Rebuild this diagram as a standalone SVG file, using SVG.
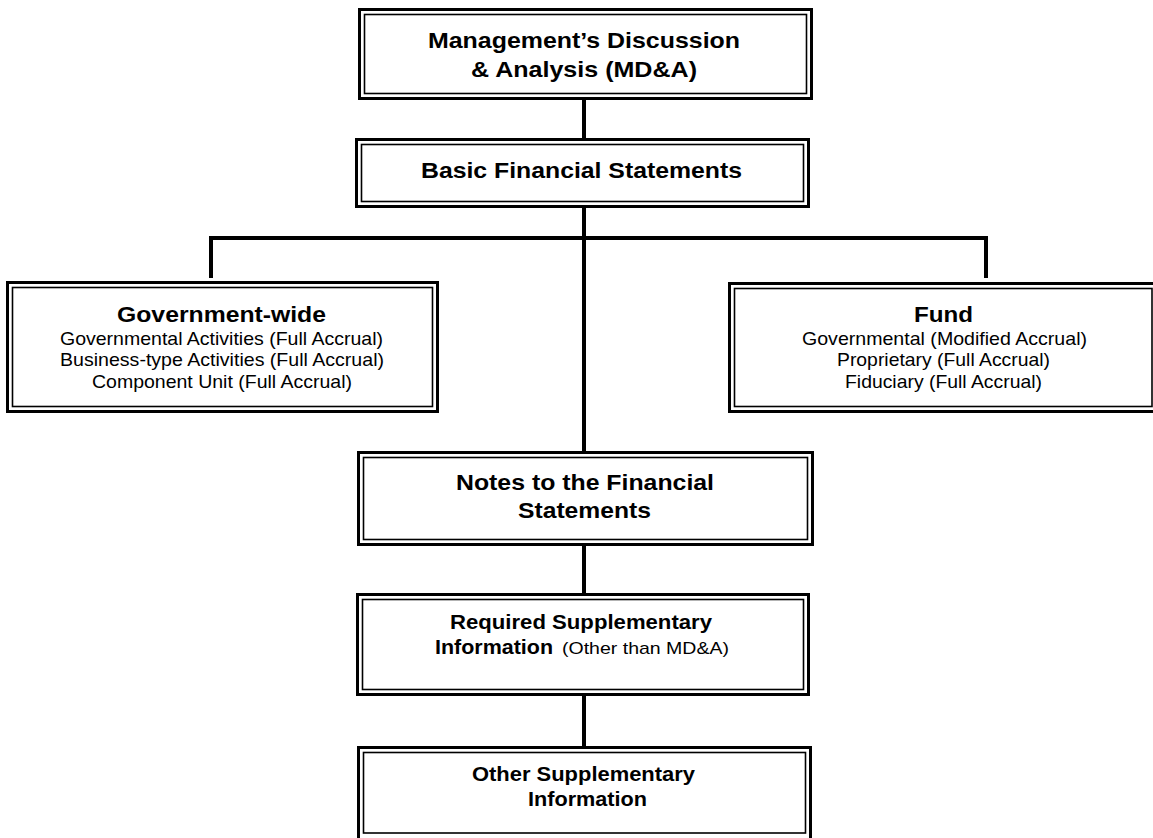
<svg xmlns="http://www.w3.org/2000/svg" width="1153" height="838" viewBox="0 0 1153 838">
<style>
.o{fill:#fff;stroke:#000;stroke-width:3}
.i{fill:none;stroke:#000;stroke-width:1.6}
.c{fill:none;stroke:#000;stroke-width:4}
text{font-family:"Liberation Sans",Arial,sans-serif;text-anchor:middle;fill:#000}
.h{font-weight:bold;font-size:22px}
.r{font-size:18.5px}
.s{font-weight:bold;font-size:20px}
.st{text-anchor:start}
</style>
<rect width="1153" height="838" fill="#fff"/>
<g id="connectors">
<line class="c" x1="584" y1="98" x2="584" y2="139"/>
<line class="c" x1="584" y1="207" x2="584" y2="453"/>
<polyline class="c" points="211,278 211,238 986,238 986,278"/>
<line class="c" x1="584" y1="546" x2="584" y2="594"/>
<line class="c" x1="584" y1="695" x2="584" y2="747"/>
</g>
<g id="mda">
<rect class="o" x="359.5" y="9.5" width="452" height="89"/>
<rect class="i" x="364.5" y="14.5" width="442" height="79"/>
<text class="h" x="584" y="48" textLength="312" lengthAdjust="spacingAndGlyphs">Management’s Discussion</text>
<text class="h" x="584" y="77" textLength="226" lengthAdjust="spacingAndGlyphs">&amp; Analysis (MD&amp;A)</text>
</g>
<g id="basic">
<rect class="o" x="356.5" y="139.5" width="452" height="67"/>
<rect class="i" x="361.5" y="144.5" width="442" height="57"/>
<text class="h" x="581.5" y="178" textLength="321" lengthAdjust="spacingAndGlyphs">Basic Financial Statements</text>
</g>
<g id="govwide">
<rect class="o" x="7.5" y="282.5" width="430" height="129"/>
<rect class="i" x="12.5" y="287.5" width="420" height="119"/>
<text class="h" x="221.5" y="322" textLength="209" lengthAdjust="spacingAndGlyphs">Government-wide</text>
<text class="r" x="221.5" y="345" textLength="323" lengthAdjust="spacingAndGlyphs">Governmental Activities (Full Accrual)</text>
<text class="r" x="222" y="366" textLength="324" lengthAdjust="spacingAndGlyphs">Business-type Activities (Full Accrual)</text>
<text class="r" x="222" y="388" textLength="260" lengthAdjust="spacingAndGlyphs">Component Unit (Full Accrual)</text>
</g>
<g id="fund">
<rect class="o" x="729.5" y="283.5" width="428" height="128"/>
<rect class="i" x="734.5" y="288.5" width="417.5" height="118"/>
<text class="h" x="943.5" y="322" textLength="59" lengthAdjust="spacingAndGlyphs">Fund</text>
<text class="r" x="944.5" y="345" textLength="285" lengthAdjust="spacingAndGlyphs">Governmental (Modified Accrual)</text>
<text class="r" x="943.5" y="366" textLength="213" lengthAdjust="spacingAndGlyphs">Proprietary (Full Accrual)</text>
<text class="r" x="943.5" y="388" textLength="197" lengthAdjust="spacingAndGlyphs">Fiduciary (Full Accrual)</text>
</g>
<g id="notes">
<rect class="o" x="358.5" y="452.5" width="454" height="92"/>
<rect class="i" x="363.5" y="457.5" width="444" height="82"/>
<text class="h" x="585" y="490" textLength="258" lengthAdjust="spacingAndGlyphs">Notes to the Financial</text>
<text class="h" x="584.5" y="518" textLength="133" lengthAdjust="spacingAndGlyphs">Statements</text>
</g>
<g id="rsi">
<rect class="o" x="357.5" y="594.5" width="451" height="100"/>
<rect class="i" x="362.5" y="599.5" width="441" height="90"/>
<text class="s" x="581" y="629" textLength="262" lengthAdjust="spacingAndGlyphs">Required Supplementary</text>
<text class="s st" x="435" y="654" textLength="118" lengthAdjust="spacingAndGlyphs">Information</text>
<text class="st" x="562" y="654" font-size="17" textLength="167" lengthAdjust="spacingAndGlyphs">(Other than MD&amp;A)</text>
</g>
<g id="osi">
<rect class="o" x="358.5" y="747.5" width="452" height="100"/>
<rect class="i" x="363.5" y="752.5" width="442" height="80.5"/>
<text class="s" x="583.5" y="781" textLength="223" lengthAdjust="spacingAndGlyphs">Other Supplementary</text>
<text class="s" x="587.5" y="806" textLength="119" lengthAdjust="spacingAndGlyphs">Information</text>
</g>
</svg>
